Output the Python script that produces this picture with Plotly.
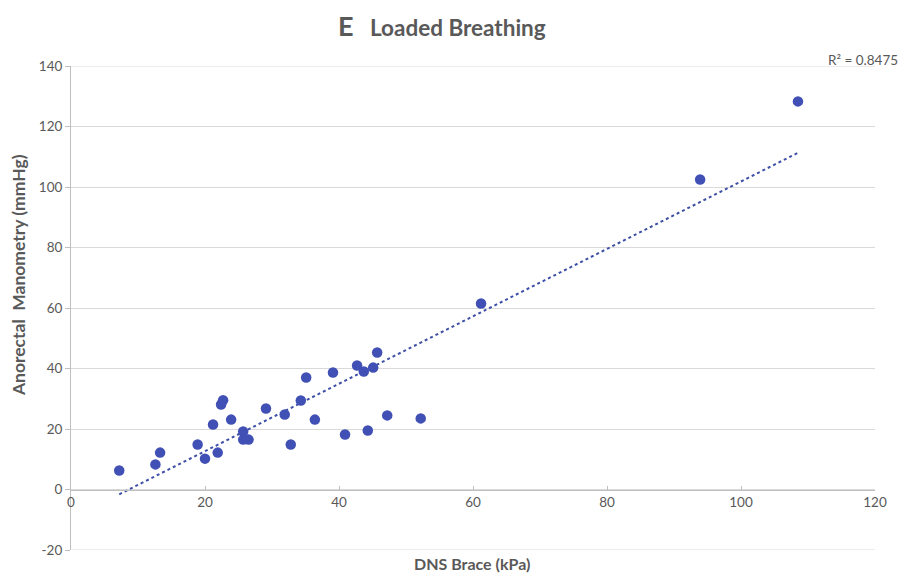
import numpy as np
import plotly.graph_objects as go

# DNS Brace pressure (kPa) vs anorectal manometry (mmHg), loaded breathing
dns_brace_kpa = [7.2, 12.6, 13.3, 18.9, 20.0, 21.2, 21.9, 22.4, 22.7, 23.9,
                 25.7, 25.7, 26.5, 29.1, 31.9, 32.8, 34.3, 35.1, 36.4, 39.1,
                 40.9, 42.7, 43.7, 44.3, 45.1, 45.7, 47.2, 52.2, 61.2, 93.9, 108.5]
anorectal_mmhg = [6.3, 8.3, 12.2, 14.9, 10.2, 21.5, 12.2, 28.1, 29.5, 23.1,
                  19.2, 16.5, 16.5, 26.8, 24.8, 14.9, 29.4, 37.0, 23.1, 38.7,
                  18.2, 41.0, 39.0, 19.5, 40.3, 45.3, 24.5, 23.5, 61.5, 102.5, 128.3]
r_squared_label = "R² = 0.8475"

x_ticks = [0, 20, 40, 60, 80, 100, 120]
y_ticks = [-20, 0, 20, 40, 60, 80, 100, 120, 140]

# Linear trend line (least squares) spanning the observed x-range
slope, intercept = np.polyfit(dns_brace_kpa, anorectal_mmhg, 1)
trend_x = np.array([min(dns_brace_kpa), max(dns_brace_kpa)])
trend_y = slope * trend_x + intercept

text_grey = "#595959"
grid_grey = "#d9d9d9"
axis_grey = "#bfbfbf"
font_family = "Lato, 'Open Sans', sans-serif"

fig = go.Figure()
fig.add_trace(go.Scatter(
    x=trend_x, y=trend_y, mode="lines",
    line=dict(color="#3d4fa6", width=2, dash="dot"),
    hoverinfo="skip", showlegend=False,
))
fig.add_trace(go.Scatter(
    x=dns_brace_kpa, y=anorectal_mmhg, mode="markers",
    marker=dict(color="#4150b5", size=10.5, line=dict(width=0)),
    showlegend=False,
))

# Gridlines at the outer ends of the value axis (range edges)
edge_lines = [
    dict(type="line", xref="paper", yref="y", x0=0, x1=1, y0=v, y1=v,
         line=dict(color=grid_grey, width=1), layer="below")
    for v in (y_ticks[0], y_ticks[-1])
]

fig.update_layout(
    width=902, height=574,
    margin=dict(l=71, r=27, t=66, b=24),
    paper_bgcolor="white", plot_bgcolor="white",
    font=dict(family=font_family, color=text_grey, size=13),
    shapes=edge_lines,
    xaxis=dict(
        range=[0, 120], tickvals=x_ticks, ticktext=[str(v) for v in x_ticks],
        showgrid=False, zeroline=False,
        showline=True, linecolor=axis_grey, linewidth=1,
        ticks="inside", ticklen=4, tickcolor=axis_grey,
        anchor="free", position=20 / 160,
        tickfont=dict(size=13.5, color=text_grey),
    ),
    yaxis=dict(
        range=[-20, 140], tickvals=y_ticks, ticktext=[str(v) for v in y_ticks],
        showgrid=True, gridcolor=grid_grey, gridwidth=1, zeroline=False,
        showline=True, linecolor=axis_grey, linewidth=1,
        ticks="outside", ticklen=5, tickcolor=axis_grey,
        tickfont=dict(size=13.5, color=text_grey),
    ),
    annotations=[
        dict(text="<b><span style='font-size:27px'>E</span>&nbsp;&nbsp;&nbsp;Loaded Breathing</b>",
             xref="paper", yref="paper", x=0.462, y=1.083,
             xanchor="center", yanchor="middle", showarrow=False,
             font=dict(size=22.5, color=text_grey, family=font_family)),
        dict(text=r_squared_label, xref="paper", yref="paper", x=1.031, y=1.0124,
             xanchor="right", yanchor="middle", showarrow=False,
             font=dict(size=13.5, color=text_grey, family=font_family)),
        dict(text="<b>Anorectal&nbsp;&nbsp;Manometry (mmHg)</b>",
             xref="paper", yref="paper", x=-0.0659, y=0.568, textangle=-90,
             xanchor="center", yanchor="middle", showarrow=False,
             font=dict(size=17.5, color=text_grey, family=font_family)),
        dict(text="<b>DNS Brace (kPa)</b>", xref="paper", yref="paper",
             x=0.4988, y=-0.0269, xanchor="center", yanchor="middle", showarrow=False,
             font=dict(size=16, color=text_grey, family=font_family)),
    ],
)

fig.write_html("out.html")
